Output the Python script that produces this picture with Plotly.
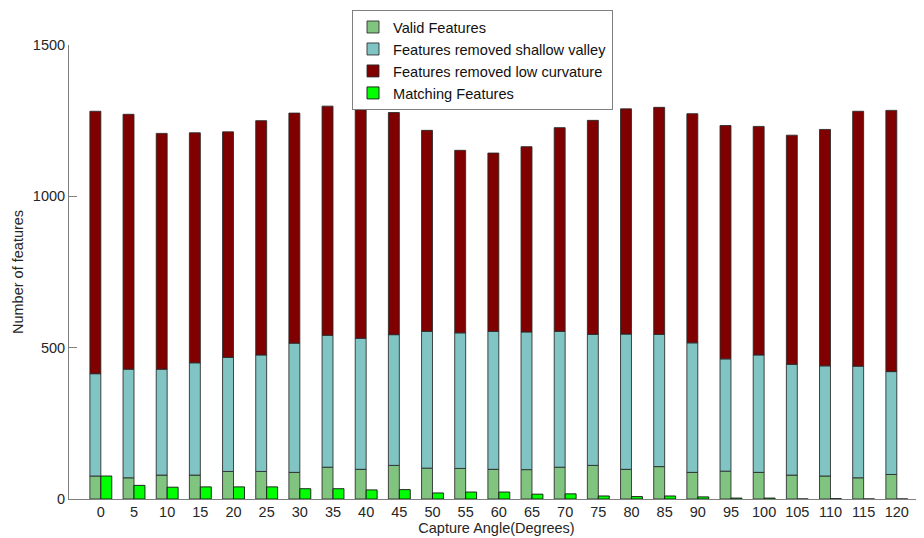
import plotly.graph_objects as go

angles = [0, 5, 10, 15, 20, 25, 30, 35, 40, 45, 50, 55, 60, 65, 70, 75, 80, 85, 90, 95, 100, 105, 110, 115, 120]
valid = [76, 70, 79, 79, 91, 91, 88, 105, 98, 111, 102, 101, 98, 97, 105, 111, 98, 107, 88, 92, 88, 79, 76, 70, 81]
shallow_removed = [338, 359, 350, 371, 377, 385, 427, 436, 433, 432, 452, 448, 456, 455, 449, 433, 447, 437, 428, 371, 388, 366, 364, 369, 340]
low_curv_removed = [867, 842, 779, 760, 745, 774, 760, 757, 755, 734, 664, 603, 589, 612, 673, 707, 744, 750, 757, 771, 755, 757, 781, 842, 863]
matching = [76, 45, 39, 40, 40, 40, 34, 34, 30, 31, 20, 23, 23, 16, 17, 10, 8, 10, 7, 3, 3, 0, 1, 0, 0]

base_shallow = list(valid)
base_low = [v + s for v, s in zip(valid, shallow_removed)]

step = 5
bw = step * 0.33
edge = dict(color="rgba(40,40,40,0.85)", width=1)

# the page body adds an 8px offset, so the figure is sized to fill the rest of the window
W, H = 916, 530
ML = 61

fig = go.Figure()
fig.add_trace(go.Bar(x=angles, y=valid, base=[0] * len(angles), name="Valid Features",
                     marker=dict(color="#80C480", line=edge), width=bw, offset=-bw))
fig.add_trace(go.Bar(x=angles, y=shallow_removed, base=base_shallow, name="Features removed shallow valley",
                     marker=dict(color="#80C4C4", line=edge), width=bw, offset=-bw))
fig.add_trace(go.Bar(x=angles, y=low_curv_removed, base=base_low, name="Features removed low curvature",
                     marker=dict(color="#800000", line=edge), width=bw, offset=-bw))
fig.add_trace(go.Bar(x=angles, y=matching, base=[0] * len(angles), name="Matching Features",
                     marker=dict(color="#00FF00", line=dict(color="rgba(20,20,20,0.9)", width=1)), width=bw, offset=0))

fig.update_layout(
    barmode="overlay",
    width=W, height=H,
    margin=dict(l=ML, r=0, t=37, b=39, autoexpand=False),
    plot_bgcolor="white", paper_bgcolor="white",
    font=dict(family="Arial, Liberation Sans, sans-serif", size=14, color="#262626"),
    showlegend=True,
    legend=dict(x=344 / W, y=1 - 2 / H, xref="container", yref="container", xanchor="left", yanchor="top",
                bordercolor="#808080", borderwidth=1, bgcolor="white",
                font=dict(size=14.6, color="#111"), traceorder="normal",
                itemwidth=30, tracegroupgap=0),
    annotations=[dict(text="Number of features", x=0, y=0.5, xref="paper", yref="paper",
                      xanchor="center", yanchor="middle", textangle=-90, xshift=10 - ML,
                      showarrow=False, font=dict(size=14.5, color="#262626"))],
)
fig.update_xaxes(
    range=[-4.8, 124.1], tickmode="array", tickvals=angles, ticktext=[str(a) for a in angles],
    showline=True, linecolor="#808080", linewidth=1, ticks="", showgrid=False, zeroline=False,
    title=dict(text="Capture Angle(Degrees)", standoff=0, font=dict(size=14.5)),
    tickfont=dict(size=14.5),
)
fig.update_yaxes(
    range=[0, 1500], tickvals=[0, 500, 1000, 1500],
    showline=True, linecolor="#808080", linewidth=1, ticks="inside", ticklen=8, tickcolor="#808080",
    showgrid=False, zeroline=False,
    tickfont=dict(size=14.5),
)

fig.write_html("out.html")
